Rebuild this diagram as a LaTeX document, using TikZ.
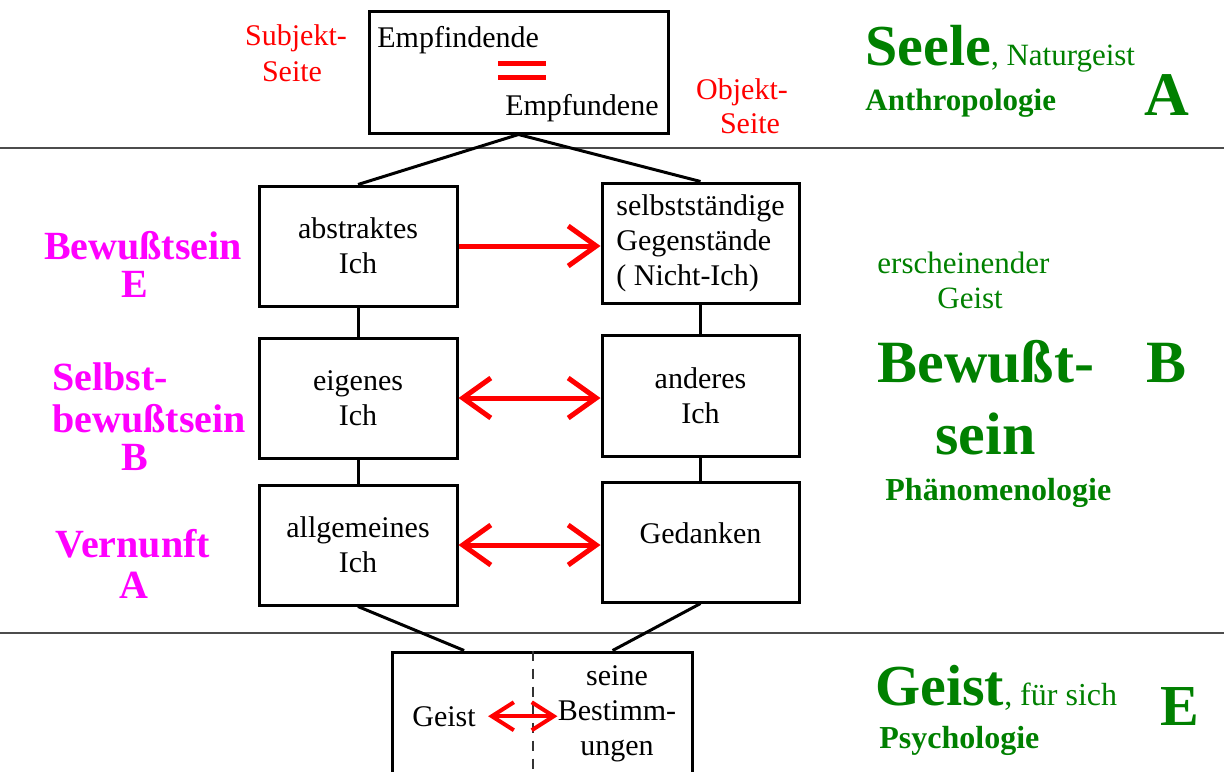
\documentclass[tikz,border=0pt]{standalone}
\usepackage{fontspec}
\setmainfont{Liberation Serif}
\usetikzlibrary{arrows.meta, positioning, calc}
\definecolor{seelengruen}{RGB}{0,128,0}
\definecolor{stufenpink}{RGB}{255,0,255}
\definecolor{seitenrot}{RGB}{255,0,0}
\newcommand{\schrift}[2]{\fontsize{#1}{#2}\selectfont}

\begin{document}
\begin{tikzpicture}[x=0.5bp, y=-0.5bp,
    kasten/.style={draw, line width=1.5bp, minimum width=99bp, minimum height=60bp, inner sep=0pt, align=center, font=\schrift{15bp}{17.5bp}},
    schwarz/.style={inner sep=0pt, font=\schrift{15bp}{17.5bp}},
    rot/.style={text=seitenrot, inner sep=0pt, font=\schrift{15bp}{18bp}},
    stufe/.style={text=stufenpink, inner sep=0pt, font=\schrift{20bp}{20bp}\bfseries},
    gruen/.style={text=seelengruen, inner sep=0pt, font=\schrift{15.5bp}{18bp}},
    verbindung/.style={line width=1.5bp},
    pfeil/.style={draw=seitenrot, line width=2.5bp},
    trennlinie/.style={draw=black!70, line width=1bp}]

    \useasboundingbox (0,0) rectangle (1224,771);
    \clip (0,0) rectangle (1224,771);

    % Trennlinien
    \draw[trennlinie] (0,148) -- (1224,148);
    \draw[trennlinie] (0,633) -- (1224,633);

    % A: Seele
    \node[kasten, minimum width=149.5bp, minimum height=60.5bp] (empf) at (518.5,72.5) {};
    \node[schwarz, anchor=base west] (empfindende) at (377,47) {Empfindende};
    \node[schwarz, anchor=base east] (empfundene) at (659,115) {Empfundene};
    \draw[seitenrot, line width=2.5bp] (498,63) -- (546,63) (498,77) -- (546,77);

    \node[rot, anchor=base] (subjekt) at (296,45) {Subjekt-};
    \node[rot, anchor=base] (subjseite) at (292,81) {Seite};
    \node[rot, anchor=base] (objekt) at (742,99) {Objekt-};
    \node[rot, anchor=base] (objseite) at (750,133) {Seite};

    % B: Bewusstsein
    \node[kasten] (abstr) at (358,246) {abstraktes\\Ich};
    \node[kasten, align=left, minimum width=98.5bp] (selbst) at (700.5,243) {selbstständige\\Gegenstände\\( Nicht-Ich)};
    \node[kasten] (eigen) at (358,398) {eigenes\\Ich};
    \node[kasten, minimum width=98.5bp, minimum height=60.5bp] (anderes) at (700.5,395.5) {anderes\\Ich};
    \node[kasten] (allgem) at (358,545) {allgemeines\\Ich};
    \node[kasten, minimum width=98.5bp, text depth=9bp] (gedanken) at (700.5,542) {Gedanken};

    \draw[verbindung] (empf.south) -- (abstr.north);
    \draw[verbindung] (empf.south) -- (selbst.north);
    \draw[verbindung] (abstr) -- (eigen);
    \draw[verbindung] (eigen) -- (allgem);
    \draw[verbindung] (selbst) -- (anderes);
    \draw[verbindung] (anderes) -- (gedanken);

    \draw[pfeil, -{Straight Barb[length=14bp, width=20bp]}] (abstr.east) -- (abstr.east -| selbst.west);
    \draw[pfeil, {Straight Barb[length=14bp, width=20bp]}-{Straight Barb[length=14bp, width=20bp]}] (eigen.east) -- (eigen.east -| anderes.west);
    \draw[pfeil, {Straight Barb[length=14bp, width=20bp]}-{Straight Barb[length=14bp, width=20bp]}] (allgem.east) -- (allgem.east -| gedanken.west);

    \node[stufe, anchor=base] (bewusst) at (143,259) {Bewußtsein};
    \node[stufe, anchor=base] (bewusstbuchst) at (135,297) {E};
    \node[stufe, anchor=base west] (selbstbew) at (52,390) {Selbst-};
    \node[stufe, anchor=base west] (selbstbew2) at (52,432) {bewußtsein};
    \node[stufe, anchor=base] (selbstbuchst) at (135,470) {B};
    \node[stufe, anchor=base] (vernunft) at (133,557) {Vernunft};
    \node[stufe, anchor=base] (vernunftbuchst) at (134,598) {A};

    % E: Geist
    \node[kasten, minimum width=150bp, minimum height=70bp] (geist) at (542,722) {};
    \draw[black!80, line width=0.6bp, dash pattern=on 5bp off 4bp] ($(geist.north west)!0.47!(geist.north east)$) -- ($(geist.south west)!0.47!(geist.south east)$);
    \node[schwarz, anchor=base west] (geistwort) at (412,726) {Geist};
    \node[schwarz, align=center, font=\schrift{15bp}{17.5bp}] (bestimm) at (617,714) {seine\\Bestimm-\\ungen};
    \draw[pfeil, line width=2bp, shorten <=6bp, {Straight Barb[length=11bp, width=14bp]}-{Straight Barb[length=11bp, width=14bp]}] (geistwort.east) -- (geistwort.east -| bestimm.west);

    \draw[verbindung] (allgem.south) -- ($(geist.north west)!0.243!(geist.north east)$);
    \draw[verbindung] (gedanken.south) -- ($(geist.north west)!0.733!(geist.north east)$);

    % rechte Spalte
    \node[gruen, anchor=base west] (seele) at (865,65) {{\schrift{29bp}{30bp}\bfseries Seele}, Naturgeist};
    \node[gruen, anchor=base west, font=\schrift{15.5bp}{18bp}\bfseries] (anthro) at (865,110) {Anthropologie};
    \node[gruen, anchor=base west, font=\schrift{31bp}{32bp}\bfseries] (seelebuchst) at (1144,115) {A};

    \node[gruen, anchor=base west] (erschein) at (877,273) {erscheinender};
    \node[gruen, anchor=base west] (erscheingeist) at (937,308) {Geist};
    \node[gruen, anchor=base west, font=\schrift{30bp}{32bp}\bfseries] (bewusstgross) at (877,382) {Bewußt-};
    \node[gruen, anchor=base west, font=\schrift{30bp}{32bp}\bfseries] (bewusstbuchstgr) at (1146,382) {B};
    \node[gruen, anchor=base west, font=\schrift{30bp}{32bp}\bfseries] (sein) at (935,454) {sein};
    \node[gruen, anchor=base west, font=\schrift{16bp}{18bp}\bfseries] (phaeno) at (885,500) {Phänomenologie};

    \node[gruen, anchor=base west, font=\schrift{16bp}{18bp}] (geistgross) at (875,705) {{\schrift{29bp}{30bp}\bfseries Geist}, für sich};
    \node[gruen, anchor=base west, font=\schrift{16bp}{18bp}\bfseries] (psycho) at (879,748) {Psychologie};
    \node[gruen, anchor=base west, font=\schrift{29bp}{32bp}\bfseries] (geistbuchst) at (1160,725) {E};
\end{tikzpicture}
\end{document}
